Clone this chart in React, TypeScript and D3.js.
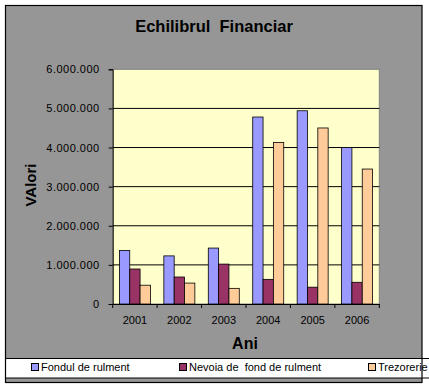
import React, { useEffect, useRef } from 'react';
import * as d3 from 'd3';

const years = ['2001', '2002', '2003', '2004', '2005', '2006'];
const seriesNames = ['Fondul de rulment', 'Nevoia de  fond de rulment', 'Trezorerie'];
const fondulRulment = [1370000, 1230000, 1430000, 4780000, 4940000, 4000000];
const nevoiaFond = [895000, 690000, 1020000, 630000, 430000, 555000];
const trezorerie = [480000, 535000, 400000, 4130000, 4500000, 3450000];
const yTicks = [0, 1000000, 2000000, 3000000, 4000000, 5000000, 6000000];
const seriesColors = ['#9999FF', '#993366', '#FFCC99'];

const W = 429;
const H = 388;
const font = '"Liberation Sans", Arial, sans-serif';

function drawChart(svgRef: React.RefObject<SVGSVGElement>) {
  const svg = d3.select(svgRef.current);
  svg.selectAll('*').remove();

  const values = [fondulRulment, nevoiaFond, trezorerie];

  // plot area
  const left = 112.7, right = 379.3, top = 69.3, bottom = 304;

  const x = d3.scaleBand<string>().domain(years).range([left, right]).padding(0);
  const xs = d3.scaleBand<number>().domain([0, 1, 2]).range([0, x.bandwidth()]).paddingInner(0).paddingOuter(0.65);
  const y = d3.scaleLinear().domain([0, 6000000]).range([bottom, top]);

  const fmt = d3.formatLocale({ decimal: ',', thousands: '.', grouping: [3], currency: ['', ''] }).format(',d');

  // chart area frame
  svg.append('rect')
    .attr('x', 5.5).attr('y', 5.5).attr('width', 416.5).attr('height', 377)
    .attr('fill', '#969696');

  // plot area
  svg.append('rect')
    .attr('x', left).attr('y', top).attr('width', right - left).attr('height', bottom - top)
    .attr('fill', '#FFFFCC').attr('stroke', '#808080').attr('stroke-width', 1);

  // gridlines
  svg.append('g').selectAll('line')
    .data(yTicks.filter(t => t > 0 && t < 6000000))
    .join('line')
    .attr('x1', left).attr('x2', right)
    .attr('y1', d => y(d)).attr('y2', d => y(d))
    .attr('stroke', '#000').attr('stroke-width', 1);

  // bars
  const groups = svg.append('g').selectAll('g')
    .data(years)
    .join('g')
    .attr('transform', d => `translate(${x(d)},0)`);

  groups.selectAll('rect')
    .data((_, i) => values.map((s, k) => ({ k, v: s[i] })))
    .join('rect')
    .attr('x', d => xs(d.k)!)
    .attr('width', xs.bandwidth())
    .attr('y', d => y(d.v))
    .attr('height', d => bottom - y(d.v))
    .attr('fill', d => seriesColors[d.k])
    .attr('stroke', '#000')
    .attr('stroke-width', 0.8);

  // y axis
  const yAxis = svg.append('g')
    .attr('transform', `translate(${left},0)`)
    .call(d3.axisLeft(y).tickValues(yTicks).tickFormat(d => fmt(+d)).tickSize(4).tickPadding(9));
  yAxis.select('.domain').attr('stroke', '#000');
  yAxis.selectAll('text')
    .attr('font-family', font).attr('font-size', 11).attr('fill', '#000').attr('letter-spacing', 0.5);

  // x axis
  const xAxis = svg.append('g')
    .attr('transform', `translate(0,${bottom})`)
    .call(d3.axisBottom(x).tickSize(0).tickPadding(12).tickSizeOuter(0));
  xAxis.select('.domain').attr('stroke', '#000');
  xAxis.selectAll('text')
    .attr('font-family', font).attr('font-size', 11).attr('fill', '#000');
  xAxis.selectAll('.bound')
    .data([...years.map(d => x(d)!), right])
    .join('line')
    .attr('class', 'bound')
    .attr('x1', d => d).attr('x2', d => d)
    .attr('y1', 0).attr('y2', 4)
    .attr('stroke', '#000');

  // titles
  svg.append('text')
    .attr('x', 214).attr('y', 32)
    .attr('text-anchor', 'middle')
    .attr('font-family', font).attr('font-weight', 'bold').attr('font-size', 16.5)
    .text('Echilibrul  Financiar')
    .style('white-space', 'pre');

  svg.append('text')
    .attr('transform', 'translate(36,185) rotate(-90)')
    .attr('text-anchor', 'middle')
    .attr('font-family', font).attr('font-weight', 'bold').attr('font-size', 15)
    .text('VAlori');

  svg.append('text')
    .attr('x', 245).attr('y', 349)
    .attr('text-anchor', 'middle')
    .attr('font-family', font).attr('font-weight', 'bold').attr('font-size', 16)
    .text('Ani');

  // legend
  svg.append('rect')
    .attr('x', 5.5).attr('y', 358.5).attr('width', 440).attr('height', 19.5)
    .attr('fill', '#fff').attr('stroke', '#000').attr('stroke-width', 1);

  const legendX = [31, 179, 368];
  const legend = svg.append('g').selectAll('g')
    .data(seriesNames)
    .join('g')
    .attr('transform', (_, i) => `translate(${legendX[i]},363)`);
  legend.append('rect')
    .attr('x', 0.5).attr('y', 0.5).attr('width', 7).attr('height', 7)
    .attr('fill', (_, i) => seriesColors[i]).attr('stroke', '#000').attr('stroke-width', 1);
  legend.append('text')
    .attr('x', 10).attr('y', 7.5)
    .attr('font-family', font).attr('font-size', 11).attr('fill', '#000')
    .style('white-space', 'pre')
    .text(d => d);

  // frame border on top
  svg.append('rect')
    .attr('x', 5.5).attr('y', 5.5).attr('width', 416.5).attr('height', 377)
    .attr('fill', 'none').attr('stroke', '#000').attr('stroke-width', 1.2);
}

export default function App() {
  const svg = useRef<SVGSVGElement>(null);

  useEffect(() => {
    document.body.style.margin = '0';
    drawChart(svg);
  }, []);

  return (
    <div id="chart">
      <svg ref={svg} width={W} height={H} style={{ display: 'block', background: '#fff' }} />
    </div>
  );
}
